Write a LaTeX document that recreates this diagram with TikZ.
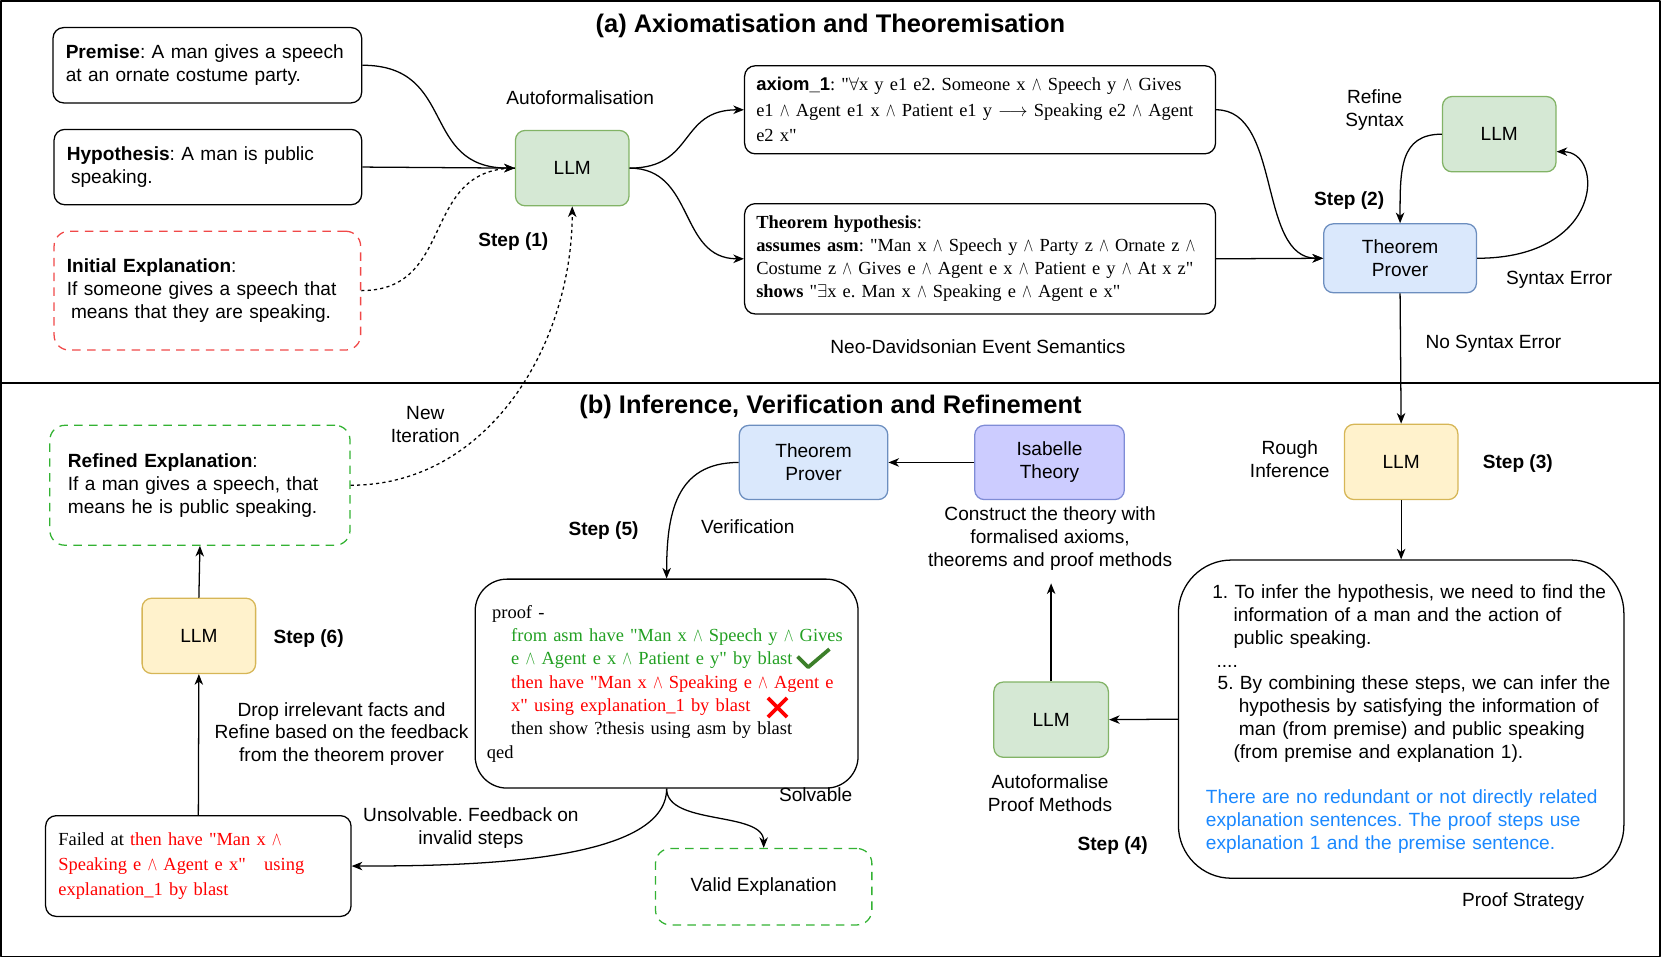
\documentclass[tikz,border=0pt]{standalone}
\usepackage{fontspec}
\usepackage{graphicx}
\setmainfont{Liberation Sans}
\newfontfamily\tnr{Liberation Serif}
\newfontfamily\arial{Liberation Sans}
\usetikzlibrary{arrows.meta}
\definecolor{gfill}{HTML}{D5E8D4}
\definecolor{gdraw}{HTML}{82B366}
\definecolor{bfill}{HTML}{DAE8FC}
\definecolor{bdraw}{HTML}{6C8EBF}
\definecolor{yfill}{HTML}{FFF2CC}
\definecolor{ydraw}{HTML}{D6B656}
\definecolor{pfill}{HTML}{CCCCFF}
\definecolor{pdraw}{HTML}{7F8CD6}
\definecolor{dred}{HTML}{F04848}
\definecolor{dgreen}{HTML}{33B233}
\definecolor{pgreen}{HTML}{22A022}
\definecolor{ckgreen}{HTML}{3C7F2A}
\definecolor{ptblue}{HTML}{1A88FF}
\newcommand\aand{\scalebox{0.8}[1.05]{$\wedge$}}
\frenchspacing
\begin{document}
\begin{tikzpicture}[x=1pt, y=-1pt, line join=round,
  font=\fontsize{18}{21.5}\selectfont,
  box/.style={draw, line width=1.2pt, rounded corners=10pt, align=left, inner ysep=0pt},
  proc/.style={draw, line width=1.2pt, rounded corners=9pt, align=center, minimum width=107pt, minimum height=71pt, inner sep=0pt},
  gproc/.style={proc, fill=gfill, draw=gdraw},
  bproc/.style={proc, fill=bfill, draw=bdraw},
  yproc/.style={proc, fill=yfill, draw=ydraw},
  pproc/.style={proc, fill=pfill, draw=pdraw},
  serif/.style={font=\tnr\fontsize{17.4}{#1}\selectfont},
  lbl/.style={align=center, inner sep=0pt},
  stp/.style={lbl, font=\bfseries\fontsize{18}{21.5}\selectfont},
  ttl/.style={lbl, font=\bfseries\fontsize{24}{28}\selectfont},
  arr/.style={line width=1.2pt, -{Stealth[length=10pt,width=8pt,inset=3pt]}},
  dots/.style={line width=1.2pt, dash pattern=on 3pt off 3pt},
  dashbox/.style={box, dash pattern=on 8pt off 6pt, rounded corners=14pt}
]
\useasboundingbox (0,0) rectangle (1566,903);
\draw[line width=1.3pt] (1,1) rectangle (1565,902);
\draw[line width=1.3pt] (1,361) -- (1565,361);

% ---------- (a) ----------
\node[ttl] (ta) at (783,24) {(a) Axiomatisation and Theoremisation};

\node[box, text width=267pt, inner xsep=12pt, minimum height=71pt] (prem) at (195.5,61.5)
  {\mbox{\textbf{Premise}: A man gives a speech}\\\mbox{at an ornate costume party.}};
\node[box, text width=266pt, inner xsep=12pt, minimum height=71pt] (hyp) at (196,157.5)
  {\mbox{\textbf{Hypothesis}: A man is public}\\\mbox{\hspace*{4pt}speaking.}};
\node[dashbox, draw=dred, text width=265pt, inner xsep=12pt, minimum height=112pt] (init) at (195.5,274)
  {\mbox{\textbf{Initial Explanation}:}\\\mbox{If someone gives a speech that}\\\mbox{\hspace*{4pt}means that they are speaking.}};

\node[gproc] (llm1) at (539.5,158.5) {LLM};
\node[lbl] (autof) at (547,92) {Autoformalisation};
\node[stp] (s1) at (484,228) {Step (1)};

\node[box, serif=24, text width=422pt, inner xsep=11pt, minimum height=83pt] (ax) at (924,103.5)
  {\mbox{{\arial\bfseries axiom\_1}: "$\forall$x y e1 e2. Someone x \aand\ Speech y \aand\ Gives}\\
   \mbox{e1 \aand\ Agent e1 x \aand\ Patient e1 y $\longrightarrow$ Speaking e2 \aand\ Agent}\\
   \mbox{e2 x"}};
\node[box, serif=21.7, text width=422pt, inner xsep=11pt, minimum height=104pt] (th) at (924,244)
  {\mbox{\textbf{Theorem hypothesis}:}\\
   \mbox{\textbf{assumes asm}: "Man x \aand\ Speech y \aand\ Party z \aand\ Ornate z \aand}\\
   \mbox{Costume z \aand\ Gives e \aand\ Agent e x \aand\ Patient e y \aand\ At x z"}\\
   \mbox{\textbf{shows} "$\exists$x e. Man x \aand\ Speaking e \aand\ Agent e x"}};
\node[lbl] (neo) at (922,327) {Neo-Davidsonian Event Semantics};

\node[bproc, minimum width=144pt, minimum height=65pt] (tp1) at (1320,243.5) {Theorem\\Prover};
\node[gproc] (llm2) at (1413.5,126.5) {LLM};
\node[lbl] (refs) at (1296,104) {Refine\\Syntax};
\node[stp] (s2) at (1272,189) {Step (2)};
\node[lbl] (synerr) at (1470,264) {Syntax Error};
\node[lbl] (nosyn) at (1408,324) {No Syntax Error};

\draw[arr] (prem.east) .. controls +(90,0) and +(-90,0) .. (llm1.west);
\draw[arr] (hyp.east) -- (llm1.west);
\draw[dots] (init.east) .. controls +(90,0) and +(-90,0) .. (llm1.west);
\draw[arr] (llm1.east) .. controls +(62,0) and +(-62,0) .. (ax.west);
\draw[arr] (llm1.east) .. controls +(62,0) and +(-62,0) .. (th.west);
\draw[arr] (ax.east) .. controls +(62,0) and +(-62,0) .. (tp1.west);
\draw[arr] (th.east) -- (tp1.west);
\draw[arr] (llm2.west) .. controls +(-40,0) and +(0,-50) .. (tp1.north);
\draw[arr] (tp1.east) .. controls +(120,0) and +(45,0) .. ([yshift=-16.5pt]llm2.east);

% ---------- (b) ----------
\node[ttl] (tb) at (783,384) {(b) Inference, Verification and Refinement};

\node[dashbox, draw=dgreen, text width=249pt, inner xsep=17pt, minimum height=113pt] (ref) at (188.5,457.5)
  {\mbox{\textbf{Refined Explanation}:}\\\mbox{If a man gives a speech, that}\\\mbox{means he is public speaking.}};
\node[lbl] (newit) at (401,400) {New\\Iteration};
\node[yproc] (llm6) at (187.5,599.5) {LLM};
\node[stp] (s6) at (291,602) {Step (6)};
\node[box, serif=24, text width=264pt, inner xsep=12pt, minimum height=95pt] (fail) at (187,816.5)
  {\mbox{Failed at \textcolor{red}{then have "Man x \aand}}\\
   \mbox{\color{red}Speaking e \aand\ Agent e x"\ \ \ using}\\
   \mbox{\color{red}explanation\_1 by blast}};
\node[lbl] (drop) at (322,692) {Drop irrelevant facts and\\Refine based on the feedback\\from the theorem prover};

\node[bproc, minimum width=140pt, minimum height=70pt] (tp2) at (767,436) {Theorem\\Prover};
\node[pproc, minimum width=141pt, minimum height=70pt] (isa) at (989.5,436) {Isabelle\\Theory};
\node[lbl] (constr) at (990,508) {Construct the theory with\\formalised axioms,\\theorems and proof methods};
\node[stp] (s5) at (569,500) {Step (5)};
\node[lbl] (verif) at (705,497) {Verification};

\node[box, serif=22, rounded corners=30pt, text width=339pt, inner xsep=11pt, minimum height=197pt] (proof) at (628.5,644.5)
  {\mbox{\hspace*{5pt}proof -}\\
   \mbox{\hspace*{23pt}\color{pgreen}from asm have "Man x \aand\ Speech y \aand\ Gives}\\
   \mbox{\hspace*{23pt}\color{pgreen}e \aand\ Agent e x \aand\ Patient e y" by blast}\\
   \mbox{\hspace*{23pt}\color{red}then have "Man x \aand\ Speaking e \aand\ Agent e}\\
   \mbox{\hspace*{23pt}\color{red}x" using explanation\_1 by blast}\\
   \mbox{\hspace*{23pt}then show ?thesis using asm by blast}\\
   \mbox{qed}};
\draw[line width=3.5pt, ckgreen] (752,619) -- (762,629) -- (782,612);
\draw[line width=3.5pt, red] (724,658) -- (742,676) (742,658) -- (724,676);

\node[lbl] (unsolv) at (444,781) {Unsolvable. Feedback on\\invalid steps};
\node[lbl] (solv) at (769,749) {Solvable};
\node[dashbox, draw=dgreen, align=center, minimum width=204pt, minimum height=72pt] (valid) at (720,836) {Valid Explanation};

\node[yproc] (llm3) at (1321,435.5) {LLM};
\node[lbl] (rough) at (1216,433) {Rough\\Inference};
\node[stp] (s3) at (1431,437) {Step (3)};

\node[box, rounded corners=50pt, text width=368pt, inner xsep=26pt, minimum height=300pt] (ps) at (1321,678)
  {\mbox{\hspace*{6pt}1. To infer the hypothesis, we need to find the}\\
   \mbox{\hspace*{26pt}information of a man and the action of}\\
   \mbox{\hspace*{26pt}public speaking.}\\
   \mbox{\hspace*{10pt}....}\\
   \mbox{\hspace*{11pt}5. By combining these steps, we can infer the}\\
   \mbox{\hspace*{31pt}hypothesis by satisfying the information of}\\
   \mbox{\hspace*{31pt}man (from premise) and public speaking}\\
   \mbox{\hspace*{26pt}(from premise and explanation 1).}\\[21.5pt]
   \mbox{\color{ptblue}There are no redundant or not directly related}\\
   \mbox{\color{ptblue}explanation sentences. The proof steps use}\\
   \mbox{\color{ptblue}explanation 1 and the premise sentence.}};
\node[lbl] (pstrat) at (1436,850) {Proof Strategy};

\node[gproc, minimum width=108pt] (llm4) at (991,678.5) {LLM};
\node[lbl] (autop) at (990,748) {Autoformalise\\Proof Methods};
\node[stp] (s4) at (1049,797) {Step (4)};
\coordinate (cons) at (991,550);

\draw[arr] (tp1.south) -- (llm3.north);
\draw[dots, -{Stealth[length=10pt,width=8pt,inset=3pt]}] (ref.east) .. controls +(130,0) and +(0,130) .. (llm1.south);
\draw[arr] (llm6.north) -- (ref.south);
\draw[arr] (fail.north) -- (llm6.south);
\draw[arr] (isa.west) -- (tp2.east);
\draw[arr] (tp2.west) .. controls +(-60,0) and +(0,-60) .. (proof.north);
\draw[arr] (proof.south) .. controls +(0,70) and +(110,0) .. (fail.east);
\draw[arr] (proof.south) .. controls +(0,35) and +(0,-35) .. (valid.north);
\draw[arr] (llm3.south) -- (ps.north);
\draw[arr] (ps.west) -- (llm4.east);
\draw[arr] (llm4.north) -- (cons);
\end{tikzpicture}
\end{document}
